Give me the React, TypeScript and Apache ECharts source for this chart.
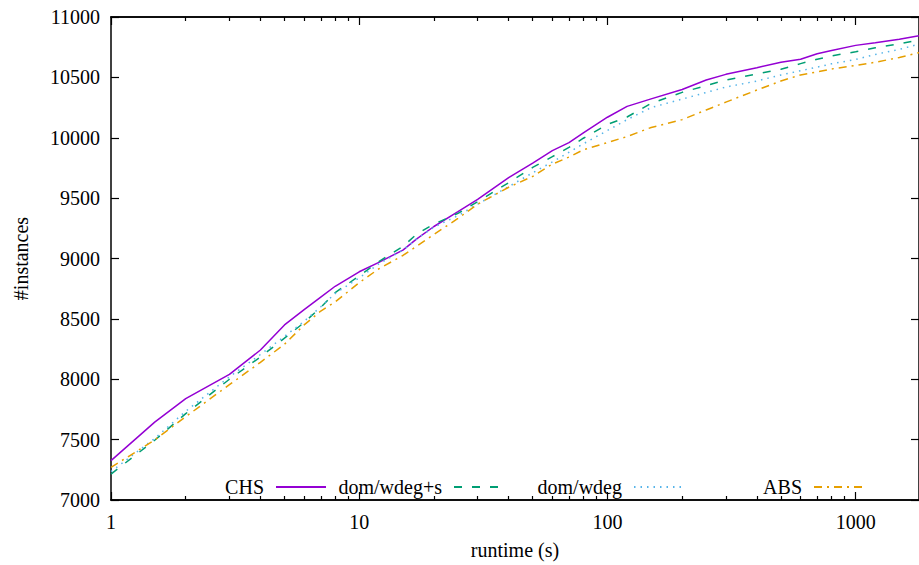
import React, { useEffect, useRef } from "react";
import * as echarts from "echarts";

const runtimes = [1, 1.5, 2, 3, 4, 5, 6, 7, 8, 10, 12, 15, 17, 20, 25, 30, 40, 50, 60, 70, 80, 100, 120, 150, 200, 250, 300, 400, 500, 600, 700, 800, 1000, 1200, 1500, 1800];

const chs = [7326, 7645, 7840, 8040, 8242, 8450, 8576, 8680, 8770, 8890, 8968, 9070, 9160, 9265, 9388, 9490, 9670, 9790, 9893, 9960, 10040, 10170, 10260, 10322, 10400, 10478, 10525, 10580, 10625, 10650, 10695, 10722, 10765, 10787, 10815, 10845];
const domWdegS = [7215, 7495, 7715, 8000, 8185, 8340, 8470, 8595, 8718, 8855, 8975, 9100, 9200, 9285, 9374, 9470, 9628, 9754, 9843, 9920, 9996, 10110, 10172, 10285, 10376, 10432, 10478, 10528, 10567, 10614, 10650, 10678, 10712, 10745, 10778, 10810];
const domWdeg = [7235, 7510, 7735, 8020, 8205, 8355, 8480, 8600, 8710, 8840, 8955, 9070, 9160, 9260, 9355, 9450, 9595, 9710, 9800, 9880, 9950, 10060, 10150, 10250, 10320, 10375, 10420, 10470, 10520, 10555, 10585, 10612, 10648, 10690, 10732, 10775];
const abs = [7270, 7497, 7690, 7955, 8140, 8290, 8450, 8565, 8640, 8800, 8915, 9025, 9100, 9200, 9332, 9450, 9590, 9680, 9782, 9840, 9900, 9960, 10010, 10085, 10150, 10230, 10295, 10395, 10470, 10520, 10545, 10570, 10598, 10625, 10665, 10705];

const seriesNames = ["CHS", "dom/wdeg+s", "dom/wdeg", "ABS"];
const seriesValues = [chs, domWdegS, domWdeg, abs];
const seriesColors = ["#9400d3", "#009e73", "#56b4e9", "#e69f00"];
const seriesDash: (number[] | "solid")[] = ["solid", [8, 10], [1.5, 5], [8, 5, 2, 5]];

const majorXTicks = [1, 10, 100, 1000];
const minorXTicks = [2, 3, 4, 5, 6, 7, 8, 9, 20, 30, 40, 50, 60, 70, 80, 90, 200, 300, 400, 500, 600, 700, 800, 900];
const xMin = 1;
const xMax = 1800;
const yMin = 7000;
const yMax = 11000;
const yStep = 500;

const FONT = "Liberation Serif";
const legendRights = [592, 414, 234, 54];

export default function App() {
  const ref = useRef<HTMLDivElement>(null);
  useEffect(() => {
    if (!ref.current) return;
    const chart = echarts.init(ref.current, null, { renderer: "svg" });
    const axisLine = { show: true, lineStyle: { color: "#000", width: 1.5 } };
    const plain = (v: number) => String(v);
    const xBase = (position: string, ticks: number[], len: number, labels: boolean, extra: any = {}) => ({
      type: "log",
      logBase: 10,
      min: xMin,
      max: xMax,
      position,
      axisLine,
      splitLine: { show: false },
      axisTick: { show: true, inside: true, length: len, customValues: ticks, lineStyle: { color: "#000", width: 1.2 } },
      axisLabel: labels
        ? { show: true, customValues: majorXTicks, formatter: plain, margin: 12, color: "#000", fontFamily: FONT, fontSize: 20 }
        : { show: false },
      ...extra,
    });
    const yBase = (position: string, labels: boolean, extra: any = {}) => ({
      type: "value",
      min: yMin,
      max: yMax,
      interval: yStep,
      position,
      axisLine,
      splitLine: { show: false },
      axisTick: { show: true, inside: true, length: 8, lineStyle: { color: "#000", width: 1.2 } },
      axisLabel: labels
        ? { show: true, formatter: plain, margin: 11, color: "#000", fontFamily: FONT, fontSize: 20 }
        : { show: false },
      ...extra,
    });
    chart.setOption({
      animation: false,
      backgroundColor: "#fff",
      textStyle: { fontFamily: FONT },
      grid: { left: 111, top: 17, width: 814, height: 483, containLabel: false },
      xAxis: [
        xBase("bottom", majorXTicks, 8, true, {
          name: "runtime (s)",
          nameLocation: "middle",
          nameGap: 40,
          nameTextStyle: { color: "#000", fontFamily: FONT, fontSize: 20 },
        }),
        xBase("bottom", minorXTicks, 4, false),
        xBase("top", majorXTicks, 8, false),
        xBase("top", minorXTicks, 4, false),
      ],
      yAxis: [
        yBase("left", true, {
          name: "#instances",
          nameLocation: "middle",
          nameGap: 80,
          nameTextStyle: { color: "#000", fontFamily: FONT, fontSize: 20 },
        }),
        yBase("right", false),
      ],
      legend: seriesNames.map((n, i) => ({
        data: [n],
        right: legendRights[i],
        top: 477,
        orient: "horizontal",
        align: "right",
        padding: 0,
        itemWidth: 50,
        itemHeight: 14,
        selectedMode: false,
        itemStyle: { opacity: 0, color: "rgba(0,0,0,0)", borderWidth: 0 },
        formatter: "{a|{name}}",
        textStyle: {
          color: "#000",
          fontFamily: FONT,
          fontSize: 20,
          rich: { a: { fontFamily: FONT, fontSize: 20, color: "#000", padding: [0, 7, 0, 0] } },
        },
      })),
      series: seriesNames.map((n, i) => ({
        name: n,
        type: "line",
        xAxisIndex: 0,
        yAxisIndex: 0,
        symbol: "none",
        showSymbol: false,
        color: seriesColors[i],
        lineStyle: { color: seriesColors[i], width: 1.5, type: seriesDash[i] },
        data: runtimes.map((x, j) => [x, seriesValues[i][j]]),
      })),
    });
    return () => chart.dispose();
  }, []);
  return <div ref={ref} style={{ position: "fixed", left: 0, top: 0, width: 919, height: 565 }} />;
}
